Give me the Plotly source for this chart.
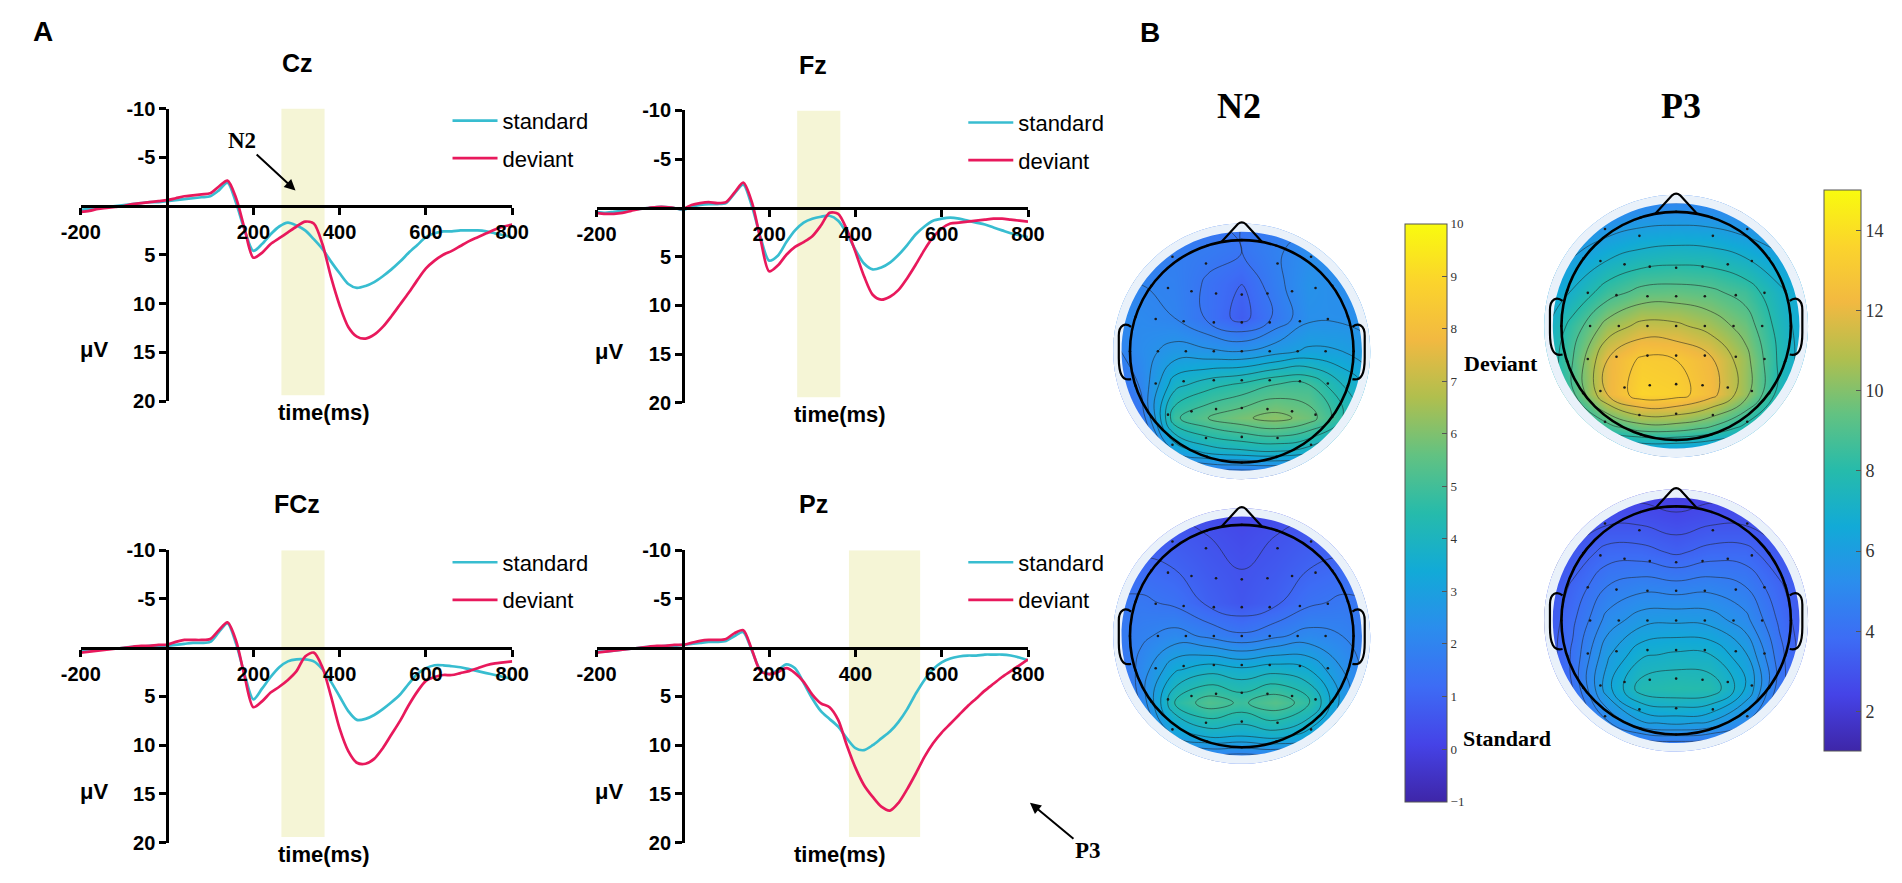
import plotly.graph_objects as go

W, H = 1902, 883

# ---- ERP waveforms (uV, negative plotted up), one value every 20 ms ----
time_ms = list(range(-200, 801, 20))

cz_standard = [0.4, 0.3, 0.2, 0.1, 0.0, -0.1, -0.2, -0.3, -0.4, -0.4,
               -0.5, -0.6, -0.7, -0.8, -0.9, -1.0, -1.6, -2.4, -0.3, 2.5,
               4.6, 3.9, 2.9, 2.1, 1.7, 2.0, 2.5, 3.4, 4.4, 5.7,
               6.9, 8.0, 8.4, 8.2, 7.8, 7.2, 6.5, 5.7, 4.8, 4.0,
               3.2, 2.8, 2.6, 2.6, 2.5, 2.5, 2.5, 2.6, 2.8, 3.0, 3.2]
cz_deviant = [0.6, 0.5, 0.3, 0.2, 0.1, 0.0, -0.2, -0.3, -0.4, -0.5,
              -0.6, -0.8, -1.0, -1.1, -1.2, -1.3, -2.0, -2.6, -0.8, 2.4,
              5.3, 4.8, 3.9, 3.3, 2.7, 2.1, 1.6, 1.8, 3.9, 7.3,
              10.2, 12.4, 13.4, 13.6, 13.2, 12.4, 11.3, 10.1, 8.9, 7.6,
              6.4, 5.6, 5.0, 4.6, 4.1, 3.6, 3.2, 2.8, 2.4, 2.1, 1.9]
fz_standard = [0.4, 0.5, 0.4, 0.3, 0.2, 0.1, 0.0, -0.1, -0.1, 0.0,
               0.2, -0.1, -0.3, -0.4, -0.4, -0.5, -1.5, -2.4, -0.2, 3.0,
               5.4, 4.9, 3.5, 2.3, 1.5, 1.1, 0.9, 0.8, 1.3, 2.6,
               4.3, 5.7, 6.3, 6.1, 5.6, 4.8, 3.8, 2.7, 1.9, 1.3,
               1.1, 1.0, 1.1, 1.3, 1.5, 1.7, 2.0, 2.3, 2.6, 2.8, 3.0]
fz_deviant = [0.5, 0.6, 0.6, 0.5, 0.3, 0.1, 0.0, -0.1, -0.1, 0.0,
              0.1, -0.3, -0.5, -0.6, -0.5, -0.6, -1.6, -2.6, -0.6, 3.2,
              6.5, 5.9, 4.8, 4.0, 3.5, 2.9, 1.8, 0.5, 0.6, 2.2,
              4.5, 7.0, 8.9, 9.4, 9.1, 8.4, 7.2, 5.8, 4.3, 3.0,
              2.1, 1.6, 1.5, 1.4, 1.3, 1.2, 1.1, 1.1, 1.2, 1.3, 1.4]
fcz_standard = [0.4, 0.3, 0.2, 0.1, 0.1, 0.0, -0.1, -0.1, -0.2, -0.2,
                -0.2, -0.3, -0.4, -0.5, -0.5, -0.6, -1.6, -2.5, -0.4, 2.8,
                5.3, 4.2, 3.0, 2.0, 1.4, 1.2, 1.2, 1.4, 2.2, 3.5,
                5.0, 6.5, 7.4, 7.3, 6.9, 6.3, 5.6, 4.8, 3.7, 2.7,
                2.1, 1.8, 1.8, 1.9, 2.0, 2.2, 2.4, 2.6, 2.8, 3.0, 3.2]
fcz_deviant = [0.5, 0.4, 0.3, 0.2, 0.1, 0.0, -0.1, -0.2, -0.2, -0.3,
               -0.3, -0.6, -0.8, -0.8, -0.8, -0.9, -1.8, -2.6, -0.7, 3.0,
               6.1, 5.5, 4.6, 4.0, 3.3, 2.4, 0.9, 0.5, 2.0, 5.0,
               8.3, 10.6, 11.8, 11.9, 11.4, 10.3, 8.9, 7.5, 5.9, 4.5,
               3.4, 3.0, 2.8, 2.8, 2.6, 2.4, 2.1, 1.8, 1.6, 1.5, 1.4]
pz_standard = [0.4, 0.4, 0.3, 0.2, 0.1, 0.0, -0.1, -0.1, -0.2, -0.2,
               -0.3, -0.4, -0.5, -0.6, -0.6, -0.7, -1.2, -1.6, 0.3, 2.3,
               2.7, 2.3, 1.7, 2.1, 3.6, 5.2, 6.5, 7.3, 8.1, 9.3,
               10.3, 10.5, 10.0, 9.3, 8.6, 7.6, 6.3, 4.7, 3.3, 2.2,
               1.5, 1.1, 0.9, 0.8, 0.8, 0.7, 0.7, 0.7, 0.8, 1.0, 1.3]
pz_deviant = [0.5, 0.4, 0.3, 0.2, 0.1, 0.0, -0.1, -0.2, -0.2, -0.3,
              -0.3, -0.5, -0.7, -0.8, -0.8, -0.9, -1.5, -1.8, 0.2, 2.4,
              2.7, 2.5, 2.1, 2.6, 3.5, 4.8, 5.7, 6.1, 7.4, 10.0,
              12.3, 14.1, 15.3, 16.3, 16.7, 15.9, 14.5, 12.9, 11.2, 9.8,
              8.7, 7.8, 6.9, 6.0, 5.2, 4.4, 3.7, 3.0, 2.4, 1.8, 1.2]

n2_window = [265, 365]
p3_window = [385, 550]
shade_bottom = 19.4

erp_xticks = [-200, 200, 400, 600, 800]
erp_xlabels = ['-200', '200', '400', '600', '800']
erp_yticks = [-10, -5, 5, 10, 15, 20]
erp_ylabels = ['-10', '-5', '5', '10', '15', '20']

# ---- scalp maps: values on a coarse grid (head radius = 1), rows top -> bottom ----
topo_x = [-1.2, -0.9, -0.6, -0.3, 0.0, 0.3, 0.6, 0.9, 1.2]
topo_y = [1.2, 0.9, 0.6, 0.3, 0.0, -0.3, -0.6, -0.9, -1.2]

n2_deviant_map = [
    [1.5, 1.5, 1.5, 1.5, 1.5, 1.6, 1.7, 1.7, 1.7],
    [1.8, 1.8, 1.8, 1.7, 1.5, 1.9, 2.3, 2.0, 1.9],
    [2.0, 2.0, 1.9, 1.4, 1.0, 1.8, 2.5, 2.3, 2.1],
    [2.1, 2.2, 2.0, 1.4, 0.8, 1.6, 2.4, 2.4, 2.3],
    [1.8, 2.3, 2.7, 2.6, 2.5, 2.8, 3.1, 3.0, 2.6],
    [1.0, 2.1, 3.8, 4.3, 4.6, 5.0, 5.0, 4.0, 3.2],
    [0.2, 1.6, 4.9, 5.5, 5.9, 6.2, 5.8, 4.6, 3.3],
    [0.0, 0.7, 3.0, 3.7, 3.9, 4.0, 3.7, 2.8, 2.0],
    [-0.3, 0.0, 0.4, 0.5, 0.5, 0.5, 0.5, 0.5, 0.5],
]
n2_standard_map = [
    [0.3, 0.3, 0.3, 0.2, 0.1, 0.2, 0.3, 0.3, 0.3],
    [0.7, 0.7, 0.7, 0.5, 0.3, 0.5, 0.7, 0.7, 0.7],
    [1.2, 1.2, 1.0, 0.7, 0.5, 0.7, 1.0, 1.2, 1.2],
    [1.5, 1.6, 1.4, 0.9, 0.6, 0.9, 1.4, 1.6, 1.5],
    [1.5, 1.9, 2.2, 1.9, 1.6, 1.9, 2.2, 2.0, 1.6],
    [1.0, 2.2, 3.4, 3.8, 3.6, 3.8, 3.5, 2.5, 1.6],
    [0.5, 2.1, 4.5, 5.3, 4.9, 5.4, 4.7, 2.8, 1.5],
    [0.2, 1.2, 3.0, 3.6, 3.5, 3.7, 3.2, 1.8, 1.0],
    [0.0, 0.3, 0.6, 0.7, 0.7, 0.7, 0.6, 0.5, 0.4],
]
p3_deviant_map = [
    [3.8, 3.9, 4.1, 4.3, 4.4, 4.3, 4.1, 3.9, 3.8],
    [4.5, 4.9, 5.4, 5.8, 5.9, 5.8, 5.4, 4.9, 4.5],
    [5.2, 6.0, 6.9, 7.4, 7.6, 7.5, 7.0, 6.2, 5.4],
    [5.8, 7.1, 8.5, 9.3, 9.4, 9.2, 8.6, 7.2, 6.0],
    [6.4, 8.4, 10.4, 11.3, 11.2, 10.6, 9.6, 7.6, 6.0],
    [6.6, 9.0, 12.0, 13.2, 13.0, 12.2, 10.4, 7.8, 6.0],
    [6.2, 8.8, 12.0, 13.6, 13.4, 12.4, 10.4, 7.6, 5.6],
    [4.8, 6.4, 8.4, 9.4, 9.4, 8.8, 7.6, 5.8, 4.4],
    [3.0, 3.3, 3.6, 3.8, 3.8, 3.7, 3.5, 3.2, 3.0],
]
p3_standard_map = [
    [2.0, 2.0, 2.1, 2.1, 2.0, 2.1, 2.1, 2.0, 2.0],
    [2.3, 2.5, 2.8, 2.8, 2.6, 2.8, 2.8, 2.5, 2.3],
    [2.6, 3.1, 3.7, 3.7, 3.4, 3.7, 3.7, 3.1, 2.6],
    [2.8, 3.6, 4.5, 4.8, 4.7, 4.8, 4.5, 3.6, 2.8],
    [2.8, 3.9, 5.2, 5.8, 5.9, 5.8, 5.2, 3.9, 2.8],
    [2.8, 4.1, 5.9, 6.9, 7.1, 7.0, 6.1, 4.2, 2.8],
    [2.7, 4.0, 6.3, 7.8, 8.0, 7.9, 6.6, 4.2, 2.7],
    [2.4, 3.3, 4.9, 5.9, 6.1, 5.9, 5.0, 3.4, 2.4],
    [2.0, 2.3, 2.8, 3.0, 3.1, 3.0, 2.8, 2.3, 2.0],
]

# electrode positions, left hemisphere and midline (right side is mirrored)
elec_x = [-0.31, 0.0, -0.62, -0.32,
          -0.81, -0.66, -0.45, -0.23, 0.0,
          -0.95, -0.77, -0.52, -0.25, 0.0,
          -1.0, -0.75, -0.5, -0.25, 0.0,
          -0.95, -0.77, -0.52, -0.25, 0.0,
          -0.81, -0.66, -0.45, -0.23, 0.0,
          -0.62, -0.32, 0.0, -0.31, 0.0]
elec_y = [0.95, 1.0, 0.85, 0.79,
          0.59, 0.57, 0.54, 0.52, 0.51,
          0.31, 0.29, 0.27, 0.26, 0.26,
          0.0, 0.0, 0.0, 0.0, 0.0,
          -0.31, -0.29, -0.27, -0.26, -0.26,
          -0.59, -0.57, -0.54, -0.52, -0.51,
          -0.84, -0.78, -0.77, -0.95, -1.0]

n2_ticks = list(range(-1, 11))
p3_ticks = [2, 4, 6, 8, 10, 12, 14]

STD_COLOR = '#38bdd0'
DEV_COLOR = '#e8195c'
SANS = 'Liberation Sans, Arial, sans-serif'
SERIF = 'Liberation Serif, Times New Roman, serif'

parula = [
    [0.00, '#3e26a8'], [0.10, '#4543e7'], [0.20, '#3d6cf5'],
    [0.30, '#2b8ded'], [0.40, '#12aad7'], [0.50, '#26bbab'],
    [0.60, '#62c282'], [0.70, '#b0bf4e'], [0.80, '#f2b941'],
    [0.90, '#fbd42c'], [1.00, '#f9fb0e'],
]


def fx(px):
    return px / W


def fy(px):
    return 1 - px / H


def circle_path(r):
    k = 0.5523 * r
    return (f'M{r},0 C{r},{k} {k},{r} 0,{r} C{-k},{r} {-r},{k} {-r},0 '
            f'C{-r},{-k} {-k},{-r} 0,{-r} C{k},{-r} {r},{-k} {r},0 Z')


fig = go.Figure()
shapes = []
annotations = []
layout_axes = {}

# ---------------- panel A: ERP waveforms ----------------
erp_panels = [
    ('Cz', cz_standard, cz_deviant, n2_window, 62, 100, ''),
    ('Fz', fz_standard, fz_deviant, n2_window, 588, 102, '2'),
    ('FCz', fcz_standard, fcz_deviant, n2_window, 62, 553, '3'),
    ('Pz', pz_standard, pz_deviant, p3_window, 588, 553, '4'),
]
PX_W, PX_H = 440, 300  # pixel size of -200..800 ms and -10..20 uV

for name, std, dev, window, x0, y0, n in erp_panels:
    xa, ya = 'x' + n, 'y' + n
    legend_name = 'legend' + n
    for label, vals, col in (('standard', std, STD_COLOR), ('deviant', dev, DEV_COLOR)):
        fig.add_trace(go.Scatter(
            x=time_ms, y=vals, name=label, mode='lines',
            line=dict(color=col, width=2.7, shape='spline', smoothing=0.8),
            xaxis=xa, yaxis=ya, legend=legend_name,
            legendgroup=name + label, hoverinfo='skip'))

    zero_x = x0 + PX_W * 200 / 1000
    zero_y = y0 + PX_H * 10 / 30
    axis_style = dict(showline=True, linecolor='black', linewidth=2.6,
                      ticks='outside', ticklen=7, tickwidth=2.6, tickcolor='black',
                      showgrid=False, zeroline=False, anchor='free',
                      tickfont=dict(family=SANS, size=20, color='black', weight='bold'))
    layout_axes['xaxis' + n] = dict(axis_style, domain=[fx(x0), fx(x0 + PX_W)],
                                    range=[-200, 800], tickvals=erp_xticks,
                                    ticktext=erp_xlabels, position=fy(zero_y))
    layout_axes['yaxis' + n] = dict(axis_style, domain=[fy(y0 + PX_H), fy(y0)],
                                    range=[20, -10], tickvals=erp_yticks,
                                    ticktext=erp_ylabels, position=fx(zero_x))
    shapes.append(dict(type='rect', xref=xa, yref=ya, x0=window[0], x1=window[1],
                       y0=-10, y1=shade_bottom, fillcolor='#f5f5d6',
                       line=dict(width=0), layer='below'))

    annotations += [
        dict(text=f'<b>{name}</b>', x=fx(x0 + 221), y=fy(y0 - 47),
             font=dict(family=SANS, size=25, color='black')),
        dict(text='<b>time(ms)</b>', x=fx(x0 + 248), y=fy(y0 + PX_H + 12),
             font=dict(family=SANS, size=22, color='black')),
        dict(text='<b>\u03bcV</b>', x=fx(x0 + 13), y=fy(y0 + 247),
             font=dict(family=SANS, size=22, color='black')),
    ]
    layout_axes[legend_name] = dict(
        x=fx(x0 + 374), y=fy(y0 - 9), xanchor='left', yanchor='top',
        bgcolor='rgba(0,0,0,0)', itemwidth=45, tracegroupgap=6,
        font=dict(family=SANS, size=22, color='black'))

# N2 / P3 arrows and panel letters
annotations += [
    dict(text='<b>N2</b>', x=fx(281), y=fy(184), showarrow=True, ax=-54, ay=-50,
         arrowhead=2, arrowsize=1.1, arrowwidth=2, arrowcolor='black',
         font=dict(family=SERIF, size=23, color='black')),
    dict(text='<b>P3</b>', x=fx(1030), y=fy(812), showarrow=True, ax=58, ay=48,
         arrowhead=2, arrowsize=1.1, arrowwidth=2, arrowcolor='black',
         font=dict(family=SERIF, size=23, color='black')),
    dict(text='<b>A</b>', x=fx(23), y=fy(21), font=dict(family=SANS, size=28, color='black')),
    dict(text='<b>B</b>', x=fx(1152), y=fy(22), font=dict(family=SANS, size=28, color='black')),
]

# ---------------- panel B: scalp maps ----------------
all_ex = elec_x + [-v for v in elec_x if v < 0]
all_ey = elec_y + [elec_y[i] for i, v in enumerate(elec_x) if v < 0]

heads = [
    (n2_deviant_map, 'coloraxis', 1246, 349, 114, 0.5, '5'),
    (n2_standard_map, 'coloraxis', 1246, 641, 114, 0.5, '6'),
    (p3_deviant_map, 'coloraxis2', 1689, 323, 117, 1.0, '7'),
    (p3_standard_map, 'coloraxis2', 1689, 625, 117, 0.5, '8'),
]
SPAN = 1.25

for grid, cax, cx, cy, r_px, step, n in heads:
    xa, ya = 'x' + n, 'y' + n
    fig.add_trace(go.Contour(
        x=topo_x, y=topo_y[::-1], z=grid[::-1], coloraxis=cax,
        contours=dict(coloring='heatmap', showlines=True, start=-1, end=16, size=step),
        line=dict(color='rgba(30,30,30,0.75)', width=0.7, smoothing=1.3),
        xaxis=xa, yaxis=ya, showlegend=False, hoverinfo='skip'))
    fig.add_trace(go.Scatter(
        x=all_ex, y=all_ey, mode='markers', marker=dict(size=2.6, color='#1a1a1a'),
        xaxis=xa, yaxis=ya, showlegend=False, hoverinfo='skip'))

    half = SPAN * r_px
    layout_axes['xaxis' + n] = dict(domain=[fx(cx - half), fx(cx + half)], range=[-SPAN, SPAN],
                                    visible=False, anchor=ya, fixedrange=True)
    layout_axes['yaxis' + n] = dict(domain=[fy(cy + half), fy(cy - half)], range=[-SPAN, SPAN],
                                    visible=False, anchor=xa, fixedrange=True)

    ref = dict(xref=xa, yref=ya, layer='above')
    shapes += [
        dict(ref, type='path', path='M-3,-3 H3 V3 H-3 Z ' + circle_path(1.15),
             fillcolor='white', fillrule='evenodd', line=dict(width=0)),
        dict(ref, type='path', path=circle_path(1.15) + ' ' + circle_path(1.075),
             fillcolor='#e9f1fa', fillrule='evenodd', line=dict(width=0)),
        dict(ref, type='circle', x0=-1, x1=1, y0=-1, y1=1,
             line=dict(color='black', width=2.6)),
        dict(ref, type='path', path='M-0.18,0.985 L-0.035,1.145 Q0,1.175 0.035,1.145 L0.18,0.985',
             line=dict(color='black', width=2.2)),
        dict(ref, type='path',
             path='M-0.99,0.22 C-1.04,0.26 -1.1,0.24 -1.1,0.14 L-1.1,-0.06 '
                  'C-1.1,-0.2 -1.07,-0.27 -0.99,-0.25',
             line=dict(color='black', width=2.2)),
        dict(ref, type='path',
             path='M0.99,0.22 C1.04,0.26 1.1,0.24 1.1,0.14 L1.1,-0.06 '
                  'C1.1,-0.2 1.07,-0.27 0.99,-0.25',
             line=dict(color='black', width=2.2)),
    ]

annotations += [
    dict(text='<b>N2</b>', x=fx(1243), y=fy(97), font=dict(family=SERIF, size=36, color='black')),
    dict(text='<b>P3</b>', x=fx(1694), y=fy(97), font=dict(family=SERIF, size=36, color='black')),
    dict(text='<b>Deviant</b>', x=fx(1510), y=fy(362), font=dict(family=SERIF, size=22, color='black')),
    dict(text='<b>Standard</b>', x=fx(1516), y=fy(746), font=dict(family=SERIF, size=22, color='black')),
]
for a in annotations:
    a.setdefault('xref', 'paper')
    a.setdefault('yref', 'paper')
    a.setdefault('showarrow', False)
    a.setdefault('xanchor', 'center')
    a.setdefault('yanchor', 'middle')

colorbar_style = dict(xanchor='left', yanchor='top', lenmode='pixels', thicknessmode='pixels',
                      xpad=0, ypad=0, outlinewidth=1, outlinecolor='#555555',
                      ticks='inside', ticklen=5, tickcolor='#555555')

fig.update_layout(
    width=W, height=H, margin=dict(l=0, r=0, t=0, b=0),
    paper_bgcolor='white', plot_bgcolor='rgba(0,0,0,0)',
    showlegend=True, shapes=shapes, annotations=annotations,
    coloraxis=dict(colorscale=parula, cmin=-1, cmax=10,
                   colorbar=dict(colorbar_style, x=fx(1412), y=fy(218), len=578, thickness=42,
                                 tickvals=n2_ticks,
                                 tickfont=dict(family=SERIF, size=13, color='#333333'))),
    coloraxis2=dict(colorscale=parula, cmin=1, cmax=15,
                    colorbar=dict(colorbar_style, x=fx(1840), y=fy(184), len=561, thickness=37,
                                  tickvals=p3_ticks,
                                  tickfont=dict(family=SERIF, size=18, color='#333333'))),
    **layout_axes,
)

# the page body has a default 8px margin; drop it so the figure sits at the window origin
fig.write_html('out.html', config={'displayModeBar': False},
               post_script="document.body.style.margin='0';")
